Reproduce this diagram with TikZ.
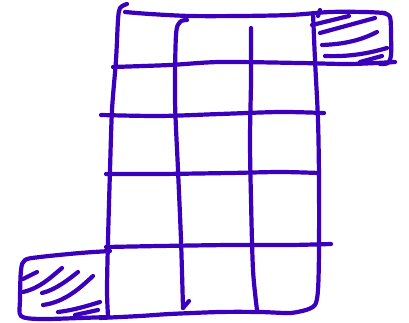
\documentclass[tikz,border=0pt]{standalone}
\definecolor{ink}{RGB}{58,0,190}
\begin{document}
\begin{tikzpicture}[x=1pt,y=-1pt,
  pen/.style={draw=ink,line width=4.2pt,line cap=round,line join=round}]
\useasboundingbox (0,0) rectangle (409,323);
% left edge
\draw[pen] plot[smooth] coordinates {(127,4) (120,8) (118,20) (116,60) (112,110) (110,170) (108,240) (107,290) (108,316)};
% top edge
\draw[pen] plot[smooth] coordinates {(125,12) (150,14) (190,16) (240,16) (290,15) (330,12) (365,12) (385,13)};
% column 2
\draw[pen] plot[smooth] coordinates {(187,20) (180,22) (176,35) (175,100) (178,170) (181,240) (183,308)};
\draw[pen] (183,308) -- (189,301);
% column 3
\draw[pen] plot[smooth] coordinates {(251,28) (251,80) (250,140) (251,200) (253,270) (257,310)};
% right edge
\draw[pen] plot[smooth] coordinates {(313,13) (315,60) (318,120) (319,180) (319,250) (318,290) (315,305) (306,310)};
% bottom edge
\draw[pen] plot[smooth] coordinates {(100,318) (140,316) (170,314) (220,312) (260,312) (290,313) (306,310)};
% horizontals
\draw[pen] plot[smooth] coordinates {(113,67) (170,65) (220,62) (300,63) (350,64) (395,62)};
\draw[pen] plot[smooth] coordinates {(101,115) (160,116) (220,114) (280,112) (324,113)};
\draw[pen] plot[smooth] coordinates {(106,174) (160,174) (230,173) (280,172) (319,173)};
\draw[pen] plot[smooth] coordinates {(106,247) (160,246) (230,245) (290,245) (331,244)};
% top-right box
\draw[pen] plot[smooth] coordinates {(383,13) (390,17) (391,35) (391,55) (388,63) (380,64)};
\draw[pen] (320,10) -- (318,16);
\draw[pen] (312,25) -- (349,16);
\draw[pen] (320,33) -- (375,18);
\draw[pen] (322,45) .. controls (350,44) and (365,38) .. (377,32);
\draw[pen] (325,56) .. controls (350,57) and (370,53) .. (387,48);
\draw[pen] (360,62) -- (382,56);
% bottom-left box
\draw[pen] plot[smooth] coordinates {(110,251) (80,253) (40,257) (25,260) (21,270) (20,300) (21,316) (40,319) (80,318) (108,317)};
\draw[pen] (23,279) -- (37,272);
\draw[pen] (23,292) .. controls (40,288) and (50,278) .. (62,268);
\draw[pen] (42,293) .. controls (55,290) and (68,280) .. (78,272);
\draw[pen] (43,305) .. controls (65,302) and (80,288) .. (93,276);
\draw[pen] (58,312) .. controls (75,310) and (90,305) .. (100,302);
\draw[pen] (75,315) -- (98,310);
\end{tikzpicture}
\end{document}
